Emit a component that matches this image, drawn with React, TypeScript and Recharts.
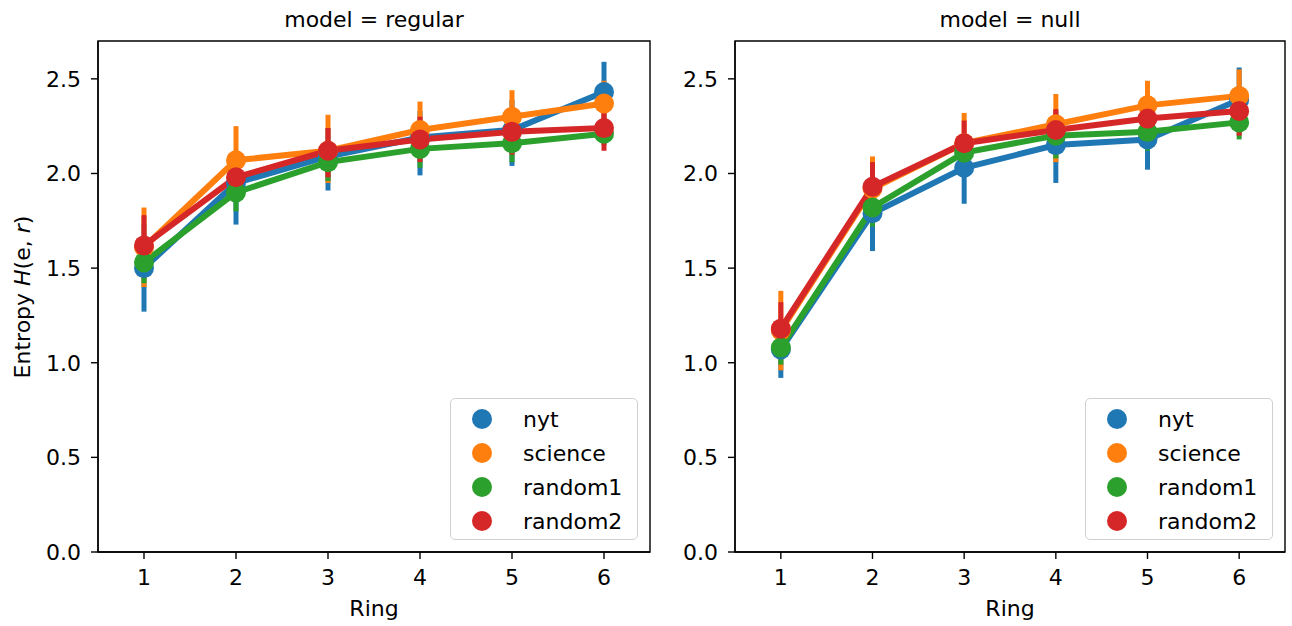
import { ComposedChart, Line, ErrorBar, XAxis, YAxis, Legend, ReferenceArea } from "recharts"

const rings = [1, 2, 3, 4, 5, 6]
const sources = ["nyt", "science", "random1", "random2"]
const colors = ["#1f77b4", "#ff7f0e", "#2ca02c", "#d62728"]
const yTicks = [0, 0.5, 1.0, 1.5, 2.0, 2.5]

// model = regular : mean, lower and upper CI per ring
const regNyt = [1.5, 1.95, 2.09, 2.19, 2.23, 2.43]
const regNytLo = [1.27, 1.73, 1.91, 1.99, 2.04, 2.27]
const regNytHi = [1.73, 2.12, 2.24, 2.33, 2.39, 2.59]
const regScience = [1.61, 2.07, 2.12, 2.23, 2.3, 2.37]
const regScienceLo = [1.4, 1.88, 1.95, 2.08, 2.16, 2.23]
const regScienceHi = [1.82, 2.25, 2.31, 2.38, 2.44, 2.49]
const regRandom1 = [1.53, 1.9, 2.06, 2.13, 2.16, 2.21]
const regRandom1Lo = [1.42, 1.8, 1.96, 2.03, 2.06, 2.15]
const regRandom1Hi = [1.64, 2.0, 2.16, 2.23, 2.26, 2.27]
const regRandom2 = [1.62, 1.98, 2.12, 2.18, 2.22, 2.24]
const regRandom2Lo = [1.49, 1.85, 1.98, 2.06, 2.1, 2.12]
const regRandom2Hi = [1.78, 2.11, 2.24, 2.3, 2.33, 2.35]

// model = null
const nullNyt = [1.07, 1.79, 2.03, 2.15, 2.18, 2.39]
const nullNytLo = [0.92, 1.59, 1.84, 1.95, 2.02, 2.22]
const nullNytHi = [1.22, 1.98, 2.2, 2.33, 2.34, 2.56]
const nullScience = [1.17, 1.92, 2.16, 2.26, 2.36, 2.41]
const nullScienceLo = [0.96, 1.78, 2.0, 2.06, 2.24, 2.29]
const nullScienceHi = [1.38, 2.09, 2.32, 2.42, 2.49, 2.55]
const nullRandom1 = [1.08, 1.82, 2.11, 2.2, 2.22, 2.27]
const nullRandom1Lo = [0.99, 1.72, 2.02, 2.08, 2.12, 2.18]
const nullRandom1Hi = [1.18, 1.93, 2.2, 2.31, 2.32, 2.35]
const nullRandom2 = [1.18, 1.93, 2.16, 2.23, 2.29, 2.33]
const nullRandom2Lo = [1.05, 1.82, 2.05, 2.12, 2.17, 2.2]
const nullRandom2Hi = [1.32, 2.06, 2.28, 2.34, 2.39, 2.44]

type Triple = [number[], number[], number[]]

function buildRows(series: Triple[]) {
  return rings.map((r, i) => {
    const row: Record<string, any> = { ring: String(r) }
    series.forEach(([mean, lo, hi], k) => {
      const key = sources[k]
      row[key] = mean[i]
      row[key + "_err"] = [mean[i] - lo[i], hi[i] - mean[i]]
    })
    return row
  })
}

const regularRows = buildRows([
  [regNyt, regNytLo, regNytHi],
  [regScience, regScienceLo, regScienceHi],
  [regRandom1, regRandom1Lo, regRandom1Hi],
  [regRandom2, regRandom2Lo, regRandom2Hi],
])

const nullRows = buildRows([
  [nullNyt, nullNytLo, nullNytHi],
  [nullScience, nullScienceLo, nullScienceHi],
  [nullRandom1, nullRandom1Lo, nullRandom1Hi],
  [nullRandom2, nullRandom2Lo, nullRandom2Hi],
])

const FONT = "'DejaVu Sans', sans-serif"
const FS = 22
const tickStyle = { fill: "#000", fontSize: FS, fontFamily: FONT }
const spine = { stroke: "#000", strokeWidth: 1.4 }

function LegendBox() {
  return (
    <div
      style={{
        width: 188,
        height: 142,
        border: "1.5px solid #d0d0d0",
        borderRadius: 5,
        background: "rgba(255,255,255,0.8)",
        fontFamily: FONT,
        fontSize: FS,
        boxSizing: "border-box",
        paddingTop: 3,
      }}
    >
      {sources.map((s, i) => (
        <div key={s} style={{ display: "flex", alignItems: "center", height: 34 }}>
          <span
            style={{
              display: "inline-block",
              flex: "none",
              width: 20,
              height: 20,
              borderRadius: 10,
              background: colors[i],
              marginLeft: 21,
              marginRight: 31,
            }}
          />
          <span style={{ color: "#000" }}>{s}</span>
        </div>
      ))}
    </div>
  )
}

function Panel({ rows, left, width, marginRight }: { rows: any[]; left: number; width: number; marginRight: number }) {
  return (
    <div style={{ position: "absolute", left, top: 0 }}>
      <ComposedChart width={width} height={626} data={rows} margin={{ top: 41, right: marginRight, bottom: 0, left: 0 }}>
        <XAxis
          dataKey="ring"
          scale="band"
          height={74}
          tick={tickStyle}
          tickSize={7}
          tickMargin={10}
          axisLine={spine}
          tickLine={spine}
          label={{ value: "Ring", position: "insideBottom", offset: 10, fill: "#000", fontSize: FS, fontFamily: FONT }}
        />
        <YAxis
          domain={[0, 2.7]}
          ticks={yTicks}
          width={98}
          tick={tickStyle}
          tickFormatter={(v: number) => v.toFixed(1)}
          tickSize={7}
          tickMargin={10}
          axisLine={spine}
          tickLine={spine}
        />
        <ReferenceArea y1={0} y2={2.7} fill="none" stroke="#000" strokeWidth={1.4} ifOverflow="visible" />
        <Legend
          layout="vertical"
          align="center"
          verticalAlign="middle"
          content={() => <LegendBox />}
          wrapperStyle={{ left: width - marginRight - 200, top: 398, width: 188, height: 142 }}
        />
        {sources.map((s, i) => (
          <Line
            key={s}
            dataKey={s}
            stroke={colors[i]}
            strokeWidth={6}
            dot={{ r: 10, fill: colors[i], stroke: "none" }}
            activeDot={false}
            isAnimationActive={false}
          >
            <ErrorBar dataKey={s + "_err"} direction="y" width={0} stroke={colors[i]} strokeWidth={5} />
          </Line>
        ))}
      </ComposedChart>
    </div>
  )
}

export default function App() {
  return (
    <div style={{ position: "absolute", left: 0, top: 0, width: 1292, height: 626, background: "#fff", fontFamily: FONT }}>
      <div style={{ position: "absolute", left: 98, width: 552, top: 7, textAlign: "center", fontSize: FS, lineHeight: "26px" }}>
        model = regular
      </div>
      <div style={{ position: "absolute", left: 735, width: 550, top: 7, textAlign: "center", fontSize: FS, lineHeight: "26px" }}>
        model = null
      </div>
      <Panel rows={regularRows} left={0} width={660} marginRight={10} />
      <Panel rows={nullRows} left={637} width={655} marginRight={7} />
      <div
        style={{
          position: "absolute",
          left: 23 - 150,
          top: 297 - 13,
          width: 300,
          height: 26,
          lineHeight: "26px",
          textAlign: "center",
          fontSize: FS,
          transform: "rotate(-90deg)",
          whiteSpace: "nowrap",
        }}
      >
        Entropy <i>H</i>(e, <i>r</i>)
      </div>
    </div>
  )
}
